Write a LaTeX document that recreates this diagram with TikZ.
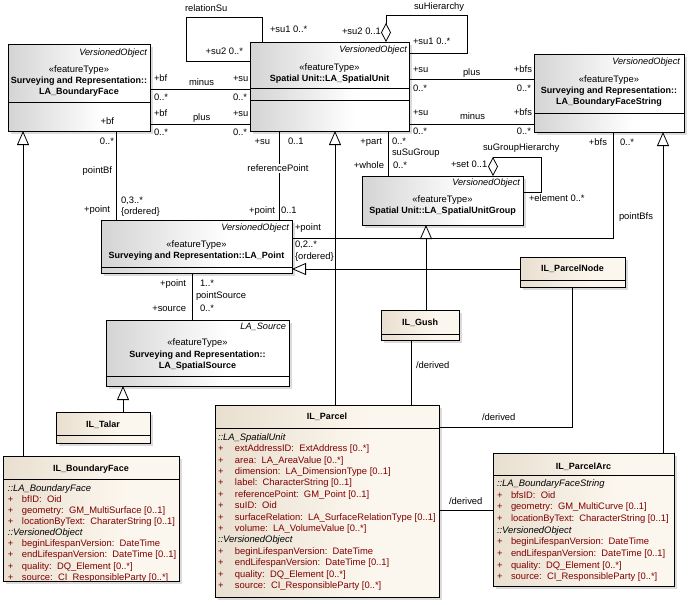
\documentclass[tikz,border=0pt]{standalone}
\usepackage{fontspec}
\setmainfont{Liberation Sans}
\usetikzlibrary{arrows.meta,calc,shadows}
\definecolor{attr}{RGB}{128,0,0}
\definecolor{ilL}{RGB}{233,223,208}
\definecolor{ilR}{RGB}{252,247,238}
\definecolor{abL}{RGB}{212,212,212}
\pgfdeclarehorizontalshading{abshade}{100bp}{color(0bp)=(abL); color(25bp)=(abL); color(58bp)=(white); color(100bp)=(white)}
\pgfdeclarehorizontalshading{ilshade}{100bp}{color(0bp)=(ilL); color(25bp)=(ilL); color(60bp)=(ilR); color(100bp)=(ilR)}
\newcommand{\attrA}[1]{\textcolor{attr}{\makebox[14pt][l]{+}#1}}
\newcommand{\attrB}[1]{\textcolor{attr}{\makebox[17pt][l]{+}#1}}
\newcommand{\hdrline}[1]{\textit{#1}}
\begin{document}
\begin{tikzpicture}[x=1pt,y=-1pt,
  every node/.style={inner sep=0pt, outer sep=0pt},
  font=\fontsize{9.4}{11}\selectfont,
  box/.style={draw=black, line width=0.8pt, anchor=north west, shade,
    drop shadow={shadow xshift=3pt, shadow yshift=-3pt, fill=black!28}},
  abox/.style={box, shading=abshade},
  ibox/.style={box, shading=ilshade},
  conn/.style={draw=black, line width=0.8pt},
  gen/.style={conn, -{Triangle[length=14pt, width=12pt, fill=white]}},
  agg/.style={conn, -{Diamond[length=19pt, width=10pt, fill=white]}},
  vo/.style={font=\fontsize{9.2}{11}\selectfont\itshape, anchor=mid east},
  st/.style={anchor=mid},
  cn/.style={font=\fontsize{9}{11}\selectfont\bfseries, anchor=mid},
  lw/.style={anchor=mid west},
  le/.style={anchor=mid east},
  sep/.style={draw=black, line width=0.8pt},
]
\useasboundingbox[fill=white] (0,0) rectangle (688,605);

% ---------- boxes ----------
\node[abox, minimum width=142pt, minimum height=87pt] (bf) at (8,44) {};
\node[abox, minimum width=159pt, minimum height=89pt] (su) at (250,42) {};
\node[abox, minimum width=150pt, minimum height=78pt] (bfs) at (534,54) {};
\node[abox, minimum width=191pt, minimum height=53pt] (pt) at (101,220) {};
\node[abox, minimum width=161pt, minimum height=49pt] (sug) at (362,176) {};
\node[abox, minimum width=183pt, minimum height=66pt] (src) at (106,320) {};
\node[ibox, minimum width=105pt, minimum height=30pt] (pnode) at (520,257) {};
\node[ibox, minimum width=78pt, minimum height=30pt] (gush) at (381,310) {};
\node[ibox, minimum width=94pt, minimum height=31pt] (talar) at (56,412) {};
\node[ibox, minimum width=224pt, minimum height=192pt] (parcel) at (215,405) {};
\node[ibox, minimum width=176pt, minimum height=125pt] (ilbf) at (3,456) {};
\node[ibox, minimum width=181pt, minimum height=133pt] (arc) at (493,453) {};

% separators
\draw[sep] ($(bf.north west)+(0,58)$) -- ($(bf.north east)+(0,58)$);
\draw[sep] ($(su.north west)+(0,46)$) -- ($(su.north east)+(0,46)$);
\draw[sep] ($(su.north west)+(0,58)$) -- ($(su.north east)+(0,58)$);
\draw[sep] ($(bfs.north west)+(0,59)$) -- ($(bfs.north east)+(0,59)$);
\draw[sep] ($(pt.north west)+(0,47)$) -- ($(pt.north east)+(0,47)$);
\draw[sep] ($(src.north west)+(0,56)$) -- ($(src.north east)+(0,56)$);
\draw[sep] ($(pnode.north west)+(0,23)$) -- ($(pnode.north east)+(0,23)$);
\draw[sep] ($(gush.north west)+(0,24)$) -- ($(gush.north east)+(0,24)$);
\draw[sep] ($(talar.north west)+(0,23)$) -- ($(talar.north east)+(0,23)$);
\draw[sep] ($(parcel.north west)+(0,23)$) -- ($(parcel.north east)+(0,23)$);
\draw[sep] ($(ilbf.north west)+(0,23)$) -- ($(ilbf.north east)+(0,23)$);
\draw[sep] ($(arc.north west)+(0,22)$) -- ($(arc.north east)+(0,22)$);

% ---------- box texts ----------
\node[vo] (tbfv) at (147,52.5) {VersionedObject};
\node[st] (tbfs) at (79,69.5) {«featureType»};
\node[cn] (tbfn1) at (79,81) {Surveying and Representation::};
\node[cn] (tbfn2) at (79,92) {LA\_BoundaryFace};

\node[vo] (tsuv) at (407,50) {VersionedObject};
\node[st] (tsus) at (329.5,68) {«featureType»};
\node[cn] (tsun) at (329.5,79) {Spatial Unit::LA\_SpatialUnit};

\node[vo] (tbfsv) at (680,62) {VersionedObject};
\node[st] (tbfss) at (609,80) {«featureType»};
\node[cn] (tbfsn1) at (609,91) {Surveying and Representation::};
\node[cn] (tbfsn2) at (609,102) {LA\_BoundaryFaceString};

\node[vo] (tptv) at (289,228) {VersionedObject};
\node[st] (tpts) at (196.5,245) {«featureType»};
\node[cn] (tptn) at (196.5,256) {Surveying and Representation::LA\_Point};

\node[vo] (tsugv) at (520,183) {VersionedObject};
\node[st] (tsugs) at (442.5,200) {«featureType»};
\node[cn] (tsugn) at (442.5,211) {Spatial Unit::LA\_SpatialUnitGroup};

\node[vo] (tsrcv) at (286,327) {LA\_Source};
\node[st] (tsrcs) at (197.5,343) {«featureType»};
\node[cn] (tsrcn1) at (197.5,355) {Surveying and Representation::};
\node[cn] (tsrcn2) at (197.5,366) {LA\_SpatialSource};

\node[cn] (tpnode) at (572.5,269) {IL\_ParcelNode};
\node[cn] (tgush) at (420,323) {IL\_Gush};
\node[cn] (ttalar) at (103,424.5) {IL\_Talar};
\node[cn] (tparcel) at (327,417) {IL\_Parcel};
\node[cn] (tilbf) at (91,468.5) {IL\_BoundaryFace};
\node[cn] (tarc) at (583.5,466.5) {IL\_ParcelArc};

\node[anchor=north west, align=left, font=\fontsize{9.4}{11.1}\selectfont] (ailbf) at (8,484.5) {%
\hdrline{::LA\_BoundaryFace}\\
\attrA{bfID:~~Oid}\\
\attrA{geometry:~~GM\_MultiSurface [0..1]}\\
\attrA{locationByText:~~CharaterString [0..1]}\\
\hdrline{::VersionedObject}\\
\attrA{beginLifespanVersion:~~DateTime}\\
\attrA{endLifespanVersion:~~DateTime [0..1]}\\
\attrA{quality:~~DQ\_Element [0..*]}\\
\attrA{source:~~CI\_ResponsibleParty [0..*]}};

\node[anchor=north west, align=left, font=\fontsize{9.4}{11.4}\selectfont] (aparcel) at (218,433.5) {%
\hdrline{::LA\_SpatialUnit}\\
\attrB{extAddressID:~~ExtAddress [0..*]}\\
\attrB{area:~~LA\_AreaValue [0..*]}\\
\attrB{dimension:~~LA\_DimensionType [0..1]}\\
\attrB{label:~~CharacterString [0..1]}\\
\attrB{referencePoint:~~GM\_Point [0..1]}\\
\attrB{suID:~~Oid}\\
\attrB{surfaceRelation:~~LA\_SurfaceRelationType [0..1]}\\
\attrB{volume:~~LA\_VolumeValue [0..*]}\\
\hdrline{::VersionedObject}\\
\attrB{beginLifespanVersion:~~DateTime}\\
\attrB{endLifespanVersion:~~DateTime [0..1]}\\
\attrB{quality:~~DQ\_Element [0..*]}\\
\attrB{source:~~CI\_ResponsibleParty [0..*]}};

\node[anchor=north west, align=left, font=\fontsize{9.4}{11.65}\selectfont] (aarc) at (497,479.8) {%
\hdrline{::LA\_BoundaryFaceString}\\
\attrA{bfsID:~~Oid}\\
\attrA{geometry:~~GM\_MultiCurve [0..1]}\\
\attrA{locationByText:~~CharacterString [0..1]}\\
\hdrline{::VersionedObject}\\
\attrA{beginLifespanVersion:~~DateTime}\\
\attrA{endLifespanVersion:~~DateTime [0..1]}\\
\attrA{quality:~~DQ\_Element [0..*]}\\
\attrA{source:~~CI\_ResponsibleParty [0..*]}};

% ---------- connectors ----------
% relationSu self loop
\draw[conn] ($(su.north west)+(0,19)$) -| ($(su.north west)+(-64,-25)$) -| ($(su.north west)+(12,0)$);
\node[lw] (lrel) at (185,9) {relationSu};
\node[le] (lrel2) at (243,52) {+su2 0..*};
\node[lw] (lrel1) at (270,30) {+su1 0..*};

% suHierarchy self loop
\draw[agg] ($(su.north east)+(0,11)$) -| ($(su.north west)+(217,-27)$) -| ($(su.north west)+(136,0)$);
\node[lw] (lhier) at (414,7) {suHierarchy};
\node[lw] (lhier2) at (342,32) {+su2 0..1};
\node[lw] (lhier1) at (413,42) {+su1 0..*};

% BF - SU minus / plus
\draw[conn] ($(bf.north east)+(0,45)$) -- ($(su.north west)+(0,47)$);
\node[lw] (lm1) at (154,79) {+bf};
\node[lw] (lm2) at (189,83) {minus};
\node[lw] (lm3) at (233,79) {+su};
\node[lw] (lm4) at (154,98) {0..*};
\node[lw] (lm5) at (233,98) {0..*};
\draw[conn] ($(bf.north east)+(0,80)$) -- ($(su.north west)+(0,82)$);
\node[lw] (lp1) at (154,114) {+bf};
\node[lw] (lp2) at (193,118) {plus};
\node[lw] (lp3) at (233,114) {+su};
\node[lw] (lp4) at (154,133) {0..*};
\node[lw] (lp5) at (233,133) {0..*};

% SU - BFS plus / minus
\draw[conn] ($(su.north east)+(0,37)$) -- ($(bfs.north west)+(0,25)$);
\node[lw] (lq1) at (413,70) {+su};
\node[lw] (lq2) at (463,73) {plus};
\node[le] (lq3) at (532,70) {+bfs};
\node[lw] (lq4) at (413,89) {0..*};
\node[le] (lq5) at (531,89) {0..*};
\draw[conn] ($(su.north east)+(0,82)$) -- ($(bfs.north west)+(0,70)$);
\node[lw] (lr1) at (413,113) {+su};
\node[lw] (lr2) at (460,117) {minus};
\node[le] (lr3) at (532,113) {+bfs};
\node[lw] (lr4) at (413,132) {0..*};
\node[le] (lr5) at (531,132) {0..*};

% pointBf
\draw[conn] ($(bf.south west)+(108,0)$) -- ($(pt.north west)+(15,0)$);
\node[le] (lb1) at (114,122) {+bf};
\node[le] (lb2) at (114,142) {0..*};
\node[le] (lb3) at (112,171) {pointBf};
\node[le] (lb4) at (110,210) {+point};
\node[lw] (lb5) at (121,201) {0,3..*};
\node[lw] (lb6) at (121,212) {\{ordered\}};

% referencePoint
\draw[conn] ($(su.south west)+(29,0)$) -- ($(pt.north west)+(178,0)$);
\node[le] (lc1) at (270,142) {+su};
\node[lw] (lc2) at (288,142) {0..1};
\node[anchor=mid, fill=white, inner sep=1pt] (lc3) at (278,169) {referencePoint};
\node[le] (lc4) at (275,211) {+point};
\node[lw] (lc5) at (281,211) {0..1};

% suSuGroup
\draw[conn] ($(su.south west)+(138,0)$) -- ($(sug.north west)+(26,0)$);
\node[le] (ld1) at (382,142) {+part};
\node[lw] (ld2) at (392,142) {0..*};
\node[lw] (ld3) at (392,153) {suSuGroup};
\node[le] (ld4) at (384,166) {+whole};
\node[lw] (ld5) at (393,166) {0..*};

% suGroupHierarchy
\draw[agg] ($(sug.north east)+(0,16)$) -| ($(sug.north west)+(179,-19)$) -| ($(sug.north west)+(131,0)$);
\node[lw] (le1) at (483,148) {suGroupHierarchy};
\node[lw] (le2) at (451,165) {+set 0..1};
\node[lw] (le3) at (529,199) {+element 0..*};

% pointBfs
\draw[conn] ($(bfs.south west)+(79,0)$) |- ($(pt.north east)+(0,18)$);
\node[le] (lf1) at (607,143) {+bfs};
\node[lw] (lf2) at (620,143) {0..*};
\node[lw] (lf3) at (619,217) {pointBfs};
\node[lw] (lf4) at (295,228) {+point};
\node[lw] (lf5) at (295,245) {0,2..*};
\node[lw] (lf6) at (295,257) {\{ordered\}};

% pointSource
\draw[conn] ($(pt.south west)+(91,0)$) -- ($(src.north west)+(86,0)$);
\node[le] (lg1) at (186,284) {+point};
\node[lw] (lg2) at (200,284) {1..*};
\node[lw] (lg3) at (196,296) {pointSource};
\node[le] (lg4) at (186,309) {+source};
\node[lw] (lg5) at (200,309) {0..*};

% generalizations
\draw[gen] ($(pnode.north west)+(0,12)$) -- ($(pt.north east)+(0,49)$);
\draw[gen] ($(gush.north west)+(45,0)$) -- ($(sug.south west)+(64,0)$);
\draw[gen] ($(parcel.north west)+(120,0)$) -- ($(su.south west)+(85,0)$);
\draw[gen] ($(ilbf.north west)+(20,0)$) -- ($(bf.south west)+(15,0)$);
\draw[gen] ($(arc.north west)+(170,0)$) -- ($(bfs.south west)+(129,0)$);
\draw[gen] ($(talar.north west)+(67,0)$) -- ($(src.south west)+(17,0)$);

% derived
\draw[conn] ($(gush.south west)+(30,0)$) -- ($(parcel.north west)+(196,0)$);
\node[lw] (lh1) at (416,366) {/derived};
\draw[conn] ($(pnode.south west)+(52,0)$) |- ($(parcel.north east)+(0,22)$);
\node[lw] (lh2) at (482,418) {/derived};
\draw[conn] ($(parcel.north east)+(0,105)$) -- ($(arc.north west)+(0,57)$);
\node[lw] (lh3) at (449,502) {/derived};
\end{tikzpicture}
\end{document}
